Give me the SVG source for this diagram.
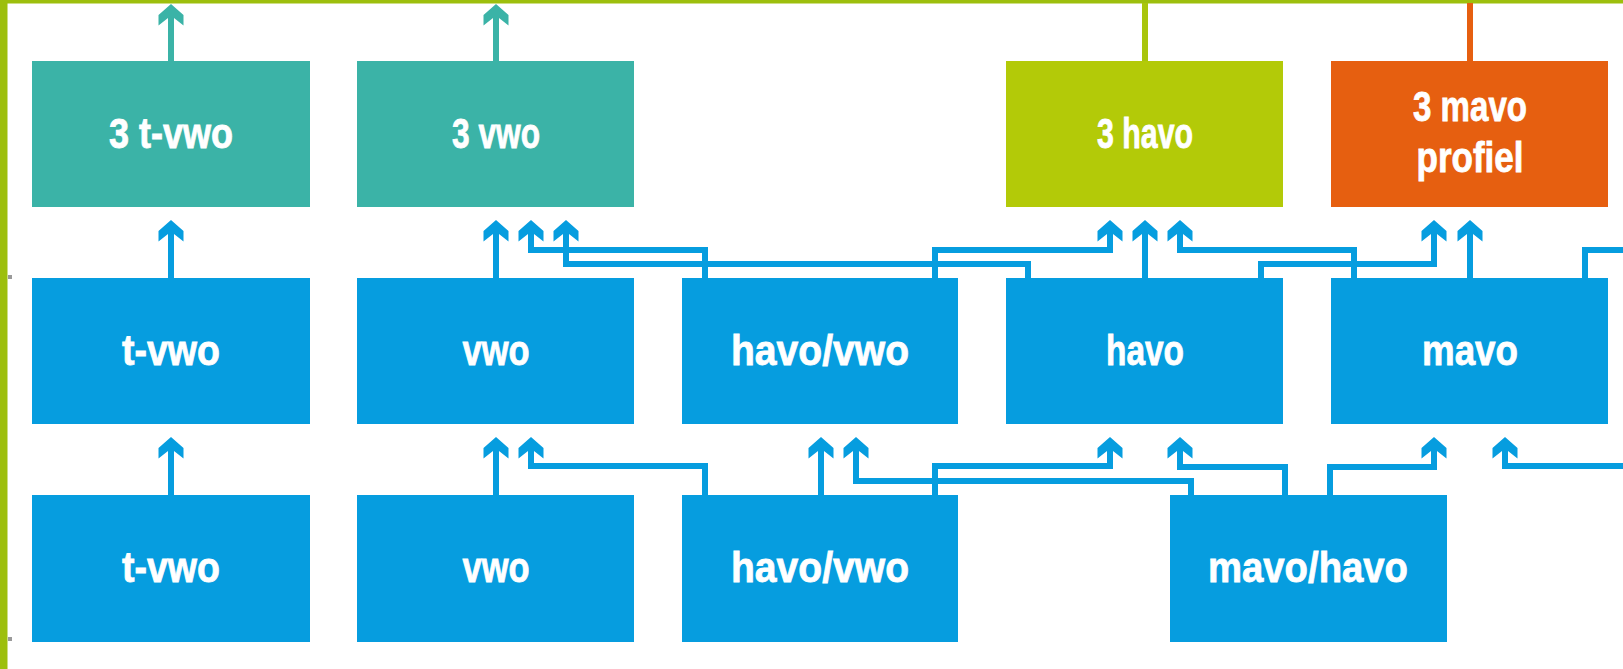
<svg xmlns="http://www.w3.org/2000/svg" width="1623" height="669" viewBox="0 0 1623 669">
<style>
.teal{fill:#3bb3a7}
.blue{fill:#069ddf}
.lime{fill:#b3ca08}
.orange{fill:#e65f10}
.lbl{font-family:"Liberation Sans Narrow","Liberation Sans","DejaVu Sans Condensed",Arial,sans-serif;font-weight:bold;font-size:42px;fill:#ffffff;stroke:#ffffff;stroke-width:0.8;text-anchor:middle}
.c{fill:none;stroke:#069ddf;stroke-width:6;stroke-linejoin:miter;stroke-linecap:butt}
.ab{fill:#069ddf}
.at{fill:#3bb3a7}
</style>
<defs>
<path id="ah" d="M0,0 L12.5,11 L12.5,21.5 L3,14 L-3,14 L-12.5,21.5 L-12.5,11 Z"/>
</defs>
<rect x="0" y="0" width="1623" height="669" fill="#ffffff"/>
<!-- frame -->
<rect x="0" y="0" width="1623" height="3.5" fill="#9dbf0d"/>
<rect x="0" y="0" width="7.5" height="669" fill="#9dbf0d"/>
<rect x="8" y="275" width="4" height="4" fill="#9a9a9a"/>
<rect x="8" y="637" width="4" height="4" fill="#9a9a9a"/>

<g id="connectors">
  <!-- top outgoing -->
  <path d="M171,61 V13" fill="none" stroke="#3bb3a7" stroke-width="6"/>
  <use href="#ah" x="171" y="4" class="at"/>
  <path d="M496,61 V13" fill="none" stroke="#3bb3a7" stroke-width="6"/>
  <use href="#ah" x="496" y="4" class="at"/>
  <path d="M1145,61 V3" fill="none" stroke="#a9c50c" stroke-width="6"/>
  <path d="M1470,61 V3" fill="none" stroke="#e65f10" stroke-width="6"/>

  <!-- row2 to row1 -->
  <path class="c" d="M171,278 V230"/>
  <path class="c" d="M496,278 V230"/>
  <path class="c" d="M705,278 V250 H531 V230"/>
  <path class="c" d="M1028,278 V264 H566 V230"/>
  <path class="c" d="M935,278 V250 H1110 V230"/>
  <path class="c" d="M1145,278 V230"/>
  <path class="c" d="M1354,278 V250 H1180 V230"/>
  <path class="c" d="M1261,278 V264 H1434 V230"/>
  <path class="c" d="M1470,278 V230"/>
  <path class="c" d="M1585,278 V250 H1623"/>
  <use href="#ah" x="171" y="220" class="ab"/>
  <use href="#ah" x="496" y="220" class="ab"/>
  <use href="#ah" x="531" y="220" class="ab"/>
  <use href="#ah" x="566" y="220" class="ab"/>
  <use href="#ah" x="1110" y="220" class="ab"/>
  <use href="#ah" x="1145" y="220" class="ab"/>
  <use href="#ah" x="1180" y="220" class="ab"/>
  <use href="#ah" x="1434" y="220" class="ab"/>
  <use href="#ah" x="1470" y="220" class="ab"/>

  <!-- row3 to row2 -->
  <path class="c" d="M171,495 V447"/>
  <path class="c" d="M496,495 V447"/>
  <path class="c" d="M705,495 V466 H531 V447"/>
  <path class="c" d="M821,495 V447"/>
  <path class="c" d="M1191,495 V481 H856 V447"/>
  <path class="c" d="M935,495 V466 H1110 V447"/>
  <path class="c" d="M1285,495 V467 H1180 V447"/>
  <path class="c" d="M1330,495 V467 H1434 V447"/>
  <path class="c" d="M1623,466 H1505 V447"/>
  <use href="#ah" x="171" y="437" class="ab"/>
  <use href="#ah" x="496" y="437" class="ab"/>
  <use href="#ah" x="531" y="437" class="ab"/>
  <use href="#ah" x="821" y="437" class="ab"/>
  <use href="#ah" x="856" y="437" class="ab"/>
  <use href="#ah" x="1110" y="437" class="ab"/>
  <use href="#ah" x="1180" y="437" class="ab"/>
  <use href="#ah" x="1434" y="437" class="ab"/>
  <use href="#ah" x="1505" y="437" class="ab"/>
</g>

<!-- row 1 -->
<g id="n-3tvwo"><rect class="teal" x="32" y="61" width="278" height="146"/><text class="lbl" x="171" y="148" textLength="124" lengthAdjust="spacingAndGlyphs">3 t-vwo</text></g>
<g id="n-3vwo"><rect class="teal" x="357" y="61" width="277" height="146"/><text class="lbl" x="496" y="148" textLength="88" lengthAdjust="spacingAndGlyphs">3 vwo</text></g>
<g id="n-3havo"><rect class="lime" x="1006" y="61" width="277" height="146"/><text class="lbl" x="1145" y="148" textLength="96" lengthAdjust="spacingAndGlyphs">3 havo</text></g>
<g id="n-3mavo"><rect class="orange" x="1331" y="61" width="277" height="146"/><text class="lbl" x="1470" y="121" textLength="114" lengthAdjust="spacingAndGlyphs">3 mavo</text><text class="lbl" x="1470" y="172" textLength="107" lengthAdjust="spacingAndGlyphs">profiel</text></g>

<!-- row 2 -->
<g id="n-r2-tvwo"><rect class="blue" x="32" y="278" width="278" height="146"/><text class="lbl" x="171" y="365" textLength="98" lengthAdjust="spacingAndGlyphs">t-vwo</text></g>
<g id="n-r2-vwo"><rect class="blue" x="357" y="278" width="277" height="146"/><text class="lbl" x="496" y="365" textLength="67" lengthAdjust="spacingAndGlyphs">vwo</text></g>
<g id="n-r2-havovwo"><rect class="blue" x="682" y="278" width="276" height="146"/><text class="lbl" x="820" y="365" textLength="178" lengthAdjust="spacingAndGlyphs">havo/vwo</text></g>
<g id="n-r2-havo"><rect class="blue" x="1006" y="278" width="277" height="146"/><text class="lbl" x="1145" y="365" textLength="78" lengthAdjust="spacingAndGlyphs">havo</text></g>
<g id="n-r2-mavo"><rect class="blue" x="1331" y="278" width="277" height="146"/><text class="lbl" x="1470" y="365" textLength="96" lengthAdjust="spacingAndGlyphs">mavo</text></g>

<!-- row 3 -->
<g id="n-r3-tvwo"><rect class="blue" x="32" y="495" width="278" height="147"/><text class="lbl" x="171" y="582" textLength="98" lengthAdjust="spacingAndGlyphs">t-vwo</text></g>
<g id="n-r3-vwo"><rect class="blue" x="357" y="495" width="277" height="147"/><text class="lbl" x="496" y="582" textLength="67" lengthAdjust="spacingAndGlyphs">vwo</text></g>
<g id="n-r3-havovwo"><rect class="blue" x="682" y="495" width="276" height="147"/><text class="lbl" x="820" y="582" textLength="178" lengthAdjust="spacingAndGlyphs">havo/vwo</text></g>
<g id="n-r3-mavohavo"><rect class="blue" x="1170" y="495" width="277" height="147"/><text class="lbl" x="1308" y="582" textLength="200" lengthAdjust="spacingAndGlyphs">mavo/havo</text></g>
</svg>
